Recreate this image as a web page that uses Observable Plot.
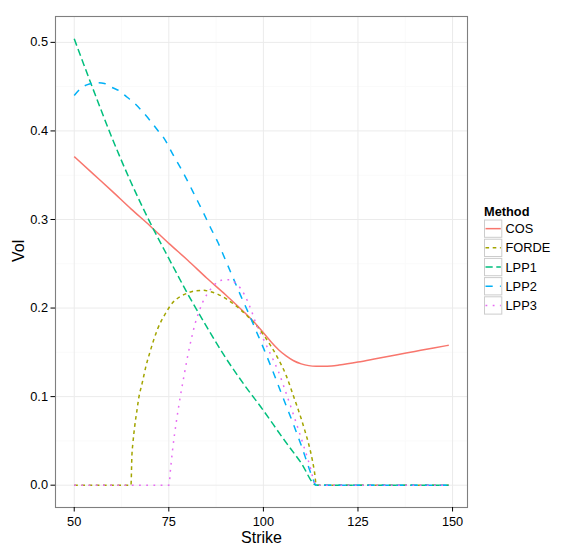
<!DOCTYPE html>
<html>
<head>
<meta charset="utf-8">
<script src="https://cdn.jsdelivr.net/npm/d3@7"></script>
<script src="https://cdn.jsdelivr.net/npm/@observablehq/plot@0.6"></script>
<style>
  body { margin: 0; background: #fff; font-family: "Liberation Sans", Arial, Helvetica, sans-serif; }
  #wrap { position: relative; width: 585px; height: 554px; }
  #legend { position: absolute; left: 480px; top: 199px; }
</style>
</head>
<body>
<div id="wrap"><div id="chart"></div><div id="legend"></div></div>
<script>
// ---- data ----
const methods = ["COS", "FORDE", "LPP1", "LPP2", "LPP3"];
const colors  = ["#F8766D", "#A3A500", "#00BF7D", "#00B0F6", "#E76BF3"];
const dashes  = ["none", "3.6,3.6", "7.2,3.6", "7.2,7.2", "1.8,5.4"];

const cosStrike = [50, 55, 60, 65, 70, 75, 80, 85, 90, 95, 98, 100, 102, 104, 106, 108, 110, 112, 114, 116, 118, 120, 125, 130, 135, 140, 145, 149];
const cosVol    = [0.371, 0.3515, 0.332, 0.312, 0.293, 0.273, 0.254, 0.234, 0.215, 0.195, 0.182, 0.172, 0.162, 0.153, 0.146, 0.1405, 0.137, 0.135, 0.1343, 0.1342, 0.1347, 0.1357, 0.139, 0.143, 0.147, 0.151, 0.155, 0.158];

const fordeStrike = [50, 65, 65.25, 65.5, 66, 66.6, 67, 68, 69, 70, 72, 74, 76, 78, 80, 82, 84, 86, 88, 90, 92, 94, 96, 98, 100, 102, 104, 106, 108, 110, 111, 112, 113, 113.5, 114, 149];
const fordeVol    = [0, 0, 0.034, 0.047, 0.067, 0.085, 0.097, 0.116, 0.135, 0.150, 0.176, 0.193, 0.206, 0.213, 0.217, 0.2195, 0.220, 0.2185, 0.2155, 0.211, 0.205, 0.198, 0.190, 0.181, 0.170, 0.157, 0.142, 0.124, 0.100, 0.075, 0.061, 0.046, 0.027, 0.015, 0, 0];

const lpp1Strike = [50, 55, 60, 65, 70, 75, 80, 85, 90, 95, 100, 105, 110, 114, 149];
const lpp1Vol    = [0.504, 0.447, 0.392, 0.342, 0.297, 0.256, 0.216, 0.179, 0.144, 0.113, 0.0844, 0.054, 0.025, 0, 0];

const lpp2Strike = [50, 52, 54, 56, 58, 60, 62, 64, 66, 68, 70, 72, 74, 76, 78, 80, 82, 84, 86, 88, 90, 92, 94, 96, 98, 100, 102, 104, 106, 108, 110, 112, 113, 114, 149];
const lpp2Vol    = [0.440, 0.449, 0.453, 0.4543, 0.4535, 0.449, 0.445, 0.438, 0.431, 0.422, 0.412, 0.401, 0.390, 0.374, 0.359, 0.343, 0.326, 0.309, 0.291, 0.274, 0.254, 0.234, 0.214, 0.195, 0.175, 0.155, 0.134, 0.112, 0.090, 0.068, 0.045, 0.020, 0.008, 0, 0];

const lpp3Strike = [50, 75, 75.5, 76, 77, 78, 79, 80, 81, 82, 83, 84, 85, 86, 87, 88, 89, 90, 91, 92, 93, 94, 95, 96, 97, 98, 100, 102, 104, 106, 108, 110, 112, 114, 149];
const lpp3Vol    = [0, 0, 0.020, 0.040, 0.072, 0.099, 0.123, 0.146, 0.166, 0.183, 0.196, 0.207, 0.215, 0.221, 0.226, 0.230, 0.2315, 0.232, 0.232, 0.230, 0.227, 0.222, 0.215, 0.206, 0.195, 0.183, 0.165, 0.147, 0.128, 0.104, 0.079, 0.053, 0.026, 0, 0];

const xTicks = [50, 75, 100, 125, 150];
const xMinor = [62.5, 87.5, 112.5, 137.5];
const yTicks = [0, 0.1, 0.2, 0.3, 0.4, 0.5];
const yMinor = [0.05, 0.15, 0.25, 0.35, 0.45];
const xTitle = "Strike";
const yTitle = "Vol";
const legendTitle = "Method";

// ---- build table ----
const strikes = [cosStrike, fordeStrike, lpp1Strike, lpp2Strike, lpp3Strike];
const vols = [cosVol, fordeVol, lpp1Vol, lpp2Vol, lpp3Vol];
const rows = methods.flatMap((m, i) => strikes[i].map((s, j) => ({Method: m, Strike: s, Vol: vols[i][j]})));

// ggplot-style expansion of 5%
const xExt = d3.extent(rows, d => d.Strike), yExt = d3.extent(rows, d => d.Vol);
const xPad = (xExt[1] - xExt[0]) * 0.05, yPad = (yExt[1] - yExt[0]) * 0.05;

const lineMarks = methods.map((m, i) => Plot.line(rows.filter(d => d.Method === m), {
  x: "Strike", y: "Vol", stroke: colors[i], strokeWidth: 1.5,
  strokeDasharray: dashes[i], strokeLinecap: "butt", curve: "monotone-x"
}));

const chart = Plot.plot({
  width: 585, height: 554,
  marginLeft: 55, marginRight: 118, marginTop: 16, marginBottom: 47,
  style: {fontFamily: '"Liberation Sans", Arial, Helvetica, sans-serif', background: "#fff", color: "#000"},
  x: {domain: [xExt[0] - xPad, xExt[1] + xPad]},
  y: {domain: [yExt[0] - yPad, yExt[1] + yPad]},
  marks: [
    Plot.gridX(xMinor, {stroke: "#FAFAFA", strokeOpacity: 1, strokeWidth: 1}),
    Plot.gridY(yMinor, {stroke: "#FAFAFA", strokeOpacity: 1, strokeWidth: 1}),
    Plot.gridX(xTicks.filter(t => t <= xExt[1] + xPad), {stroke: "#EBEBEB", strokeOpacity: 1, strokeWidth: 1}),
    Plot.gridY(yTicks, {stroke: "#EBEBEB", strokeOpacity: 1, strokeWidth: 1}),
    ...lineMarks,
    Plot.frame({stroke: "#7F7F7F", strokeWidth: 1.1}),
    Plot.axisX(xTicks, {tickSize: 4.5, tickPadding: 5, fontSize: 12.8, label: null, stroke: "#000", fill: "#000"}),
    Plot.axisY(yTicks, {tickSize: 4.5, tickPadding: 3, fontSize: 12.8, label: null, tickFormat: d3.format(".1f"), stroke: "#000", fill: "#000"}),
    Plot.text([xTitle], {frameAnchor: "bottom", lineAnchor: "middle", dy: 30, fontSize: 16, fill: "#000"}),
    Plot.text([yTitle], {frameAnchor: "left", lineAnchor: "middle", dx: -37, rotate: -90, fontSize: 16, fill: "#000"})
  ]
});
document.getElementById("chart").appendChild(chart);

// ---- legend (ggplot-style, right side) ----
const key = 17.3, pitch = 19.2, top0 = 21;
const lg = d3.select("#legend").append("svg").attr("width", 105).attr("height", 130)
  .style("font-family", '"Liberation Sans", Arial, Helvetica, sans-serif');
lg.append("text").attr("x", 4).attr("y", 16.5).attr("font-size", 12.8).attr("font-weight", "bold").text(legendTitle);
methods.forEach((m, i) => {
  const y = top0 + i * pitch;
  lg.append("rect").attr("x", 4.5).attr("y", y).attr("width", key).attr("height", key)
    .attr("fill", "#fff").attr("stroke", "#CCCCCC").attr("stroke-width", 1);
  lg.append("line").attr("x1", 5.5).attr("x2", 4.5 + key - 1).attr("y1", y + key / 2).attr("y2", y + key / 2)
    .attr("stroke", colors[i]).attr("stroke-width", 1.5)
    .attr("stroke-dasharray", dashes[i] === "none" ? null : dashes[i]);
  lg.append("text").attr("x", 25.5).attr("y", y + key / 2 + 4.6).attr("font-size", 12.8).text(m);
});
</script>
</body>
</html>
